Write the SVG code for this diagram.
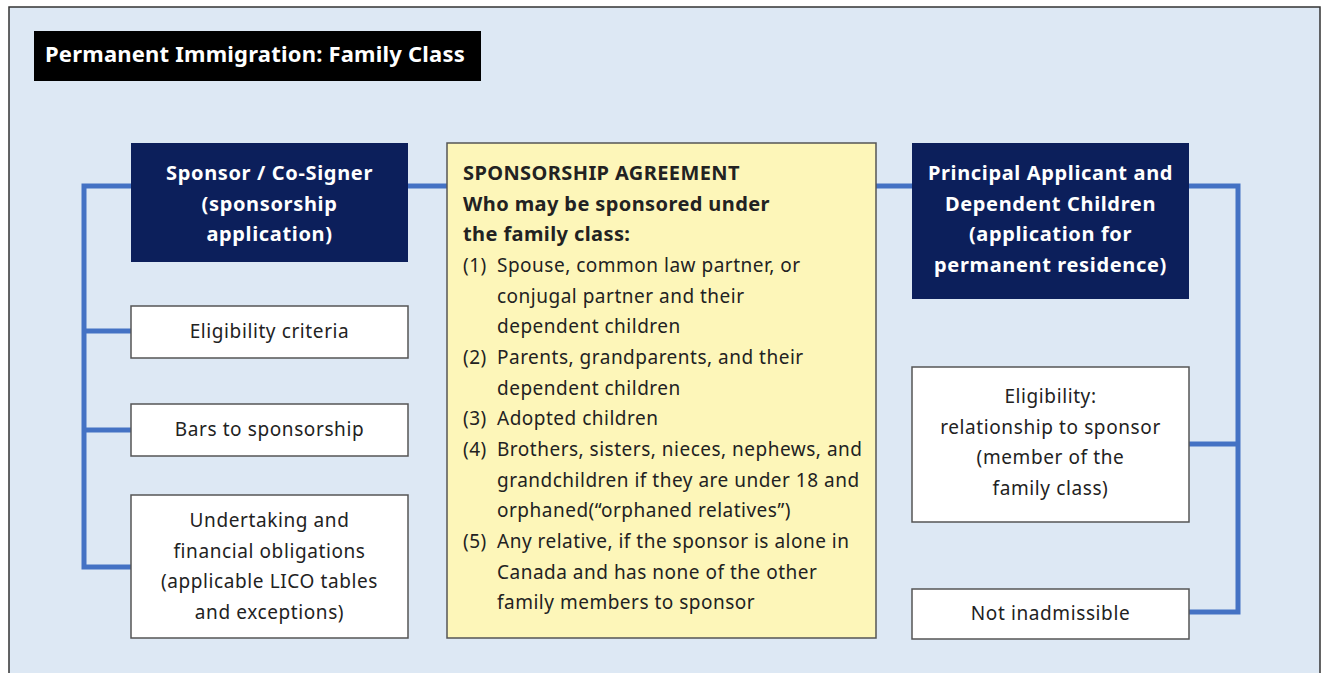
<svg xmlns="http://www.w3.org/2000/svg" width="1322" height="673" viewBox="0 0 1322 673">
<style>
.t{font-family:"Noto Sans","Open Sans",sans-serif;fill:#222;font-size:19px;letter-spacing:0.5px}
.w{letter-spacing:0.6px}
.h{font-family:"Noto Sans","Open Sans",sans-serif;fill:#fff;font-size:20px;font-weight:bold;text-anchor:middle;letter-spacing:0.65px}
.c{text-anchor:middle}
.b{font-weight:bold;font-size:20px;letter-spacing:0.4px}
.dark{fill:#0c1f5b}
.wb{fill:#fff;stroke:#555;stroke-width:1.5}
.ln{fill:none;stroke:#4472c4;stroke-width:5}
</style>
<rect x="9" y="7" width="1311" height="680" fill="#dde8f4" stroke="#333" stroke-width="1.5"/>
<g id="title">
<rect x="34" y="31" width="447" height="50" fill="#000"/>
<text x="45" y="62" class="h" style="text-anchor:start;font-size:22px;letter-spacing:0.2px">Permanent Immigration: Family Class</text>
</g>
<g id="connectors">
<polyline class="ln" points="131,186 84,186 84,567 131,567"/>
<line class="ln" x1="84" y1="331" x2="131" y2="331"/>
<line class="ln" x1="84" y1="430" x2="131" y2="430"/>
<line class="ln" x1="408" y1="186" x2="447" y2="186"/>
<line class="ln" x1="876" y1="186" x2="912" y2="186"/>
<polyline class="ln" points="1189,186 1238,186 1238,612 1189,612"/>
<line class="ln" x1="1189" y1="444" x2="1238" y2="444"/>
</g>
<g id="sponsor">
<rect class="dark" x="131" y="143" width="277" height="119"/>
<text class="h" x="269.5" y="180">Sponsor / Co-Signer</text>
<text class="h" x="269.5" y="211">(sponsorship</text>
<text class="h" x="269.5" y="241">application)</text>
</g>
<g id="eligibility-criteria">
<rect class="wb" x="131" y="306" width="277" height="52"/>
<text class="t c w" x="269.5" y="338">Eligibility criteria</text>
</g>
<g id="bars">
<rect class="wb" x="131" y="404" width="277" height="52"/>
<text class="t c w" x="269.5" y="436">Bars to sponsorship</text>
</g>
<g id="undertaking">
<rect class="wb" x="131" y="495" width="277" height="143"/>
<text class="t c w" x="269.5" y="527">Undertaking and</text>
<text class="t c w" x="269.5" y="558">financial obligations</text>
<text class="t c w" x="269.5" y="588">(applicable LICO tables</text>
<text class="t c w" x="269.5" y="619">and exceptions)</text>
</g>
<g id="agreement">
<rect x="447" y="143" width="429" height="495" fill="#fdf6b9" stroke="#555" stroke-width="1.5"/>
<text class="t b" x="463" y="180">SPONSORSHIP AGREEMENT</text>
<text class="t b" x="463" y="211">Who may be sponsored under</text>
<text class="t b" x="463" y="241">the family class:</text>
<text class="t" x="463" y="272">(1)</text><text class="t" x="497" y="272">Spouse, common law partner, or</text>
<text class="t" x="497" y="303">conjugal partner and their</text>
<text class="t" x="497" y="333">dependent children</text>
<text class="t" x="463" y="364">(2)</text><text class="t" x="497" y="364">Parents, grandparents, and their</text>
<text class="t" x="497" y="395">dependent children</text>
<text class="t" x="463" y="425">(3)</text><text class="t" x="497" y="425">Adopted children</text>
<text class="t" x="463" y="456">(4)</text><text class="t" x="497" y="456">Brothers, sisters, nieces, nephews, and</text>
<text class="t" x="497" y="487">grandchildren if they are under 18 and</text>
<text class="t" x="497" y="517">orphaned(“orphaned relatives”)</text>
<text class="t" x="463" y="548">(5)</text><text class="t" x="497" y="548">Any relative, if the sponsor is alone in</text>
<text class="t" x="497" y="579">Canada and has none of the other</text>
<text class="t" x="497" y="609">family members to sponsor</text>
</g>
<g id="principal">
<rect class="dark" x="912" y="143" width="277" height="156"/>
<text class="h" x="1050.5" y="180">Principal Applicant and</text>
<text class="h" x="1050.5" y="211">Dependent Children</text>
<text class="h" x="1050.5" y="241">(application for</text>
<text class="h" x="1050.5" y="272">permanent residence)</text>
</g>
<g id="eligibility-relationship">
<rect class="wb" x="912" y="367" width="277" height="155"/>
<text class="t c w" x="1050.5" y="403">Eligibility:</text>
<text class="t c w" x="1050.5" y="434">relationship to sponsor</text>
<text class="t c w" x="1050.5" y="464">(member of the</text>
<text class="t c w" x="1050.5" y="495">family class)</text>
</g>
<g id="not-inadmissible">
<rect class="wb" x="912" y="589" width="277" height="50"/>
<text class="t c w" x="1050.5" y="620">Not inadmissible</text>
</g>
</svg>
